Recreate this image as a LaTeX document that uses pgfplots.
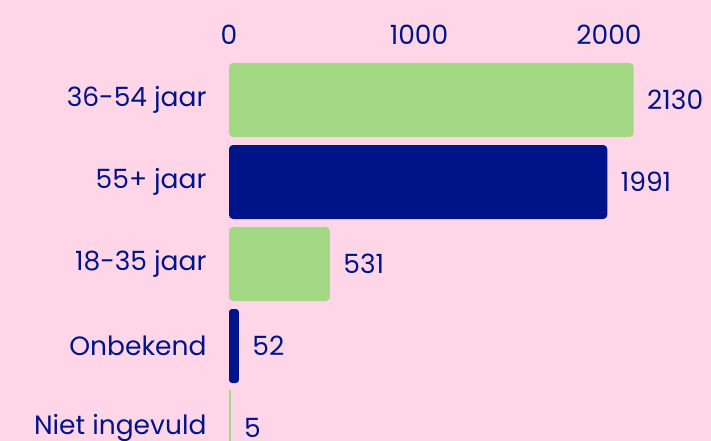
\documentclass[border=0pt]{standalone}
\usepackage{pgfplots}
\pgfplotsset{compat=1.18}
\usepackage{fontspec}
\setmainfont{Poppins}
\definecolor{bg}{HTML}{FFD6E8}
\definecolor{grn}{HTML}{A3D982}
\definecolor{nav}{HTML}{00148A}
\newcommand{\lblfont}{\fontsize{26.5}{31}\selectfont}
\begin{document}
\begin{tikzpicture}[x=1pt,y=1pt]
\useasboundingbox (0,0) rectangle (711,441);
\fill[bg] (0,0) rectangle (711,441);
\begin{axis}[
  at={(229pt,0pt)}, anchor=south west,
  scale only axis, width=482pt, height=382pt,
  xmin=0, xmax=2536.8, ymin=-0.5, ymax=4.1585, y dir=reverse,
  axis x line*=top, axis y line*=left,
  axis line style={draw=none},
  major tick length=0pt,
  xtick={0,1000,2000},
  ytick={0,1,2,3,4},
  yticklabels={36-54 jaar,55+ jaar,18-35 jaar,Onbekend,Niet ingevuld},
  /pgf/number format/assume math mode=true,
  /pgf/number format/1000 sep={},
  tick label style={font=\lblfont, text=nav},
  xticklabel shift=11pt,
  yticklabel shift=19pt,
  point meta=x,
  every node near coord/.append style={font=\lblfont, text=nav, anchor=west, xshift=10pt},
  nodes near coords,
]
\addplot[xbar, bar shift=0pt, bar width=74pt, fill=grn, draw=none, rounded corners=4pt] coordinates {(2130,0)};
\addplot[xbar, bar shift=0pt, bar width=74pt, fill=nav, draw=none, rounded corners=4pt] coordinates {(1991,1)};
\addplot[xbar, bar shift=0pt, bar width=74pt, fill=grn, draw=none, rounded corners=4pt] coordinates {(531,2)};
\addplot[xbar, bar shift=0pt, bar width=74pt, fill=nav, draw=none, rounded corners=3pt] coordinates {(52,3)};
\addplot[xbar, bar shift=0pt, bar width=74pt, fill=grn, draw=grn, line width=1.6pt] coordinates {(5,4)};
\end{axis}
\end{tikzpicture}
\end{document}
